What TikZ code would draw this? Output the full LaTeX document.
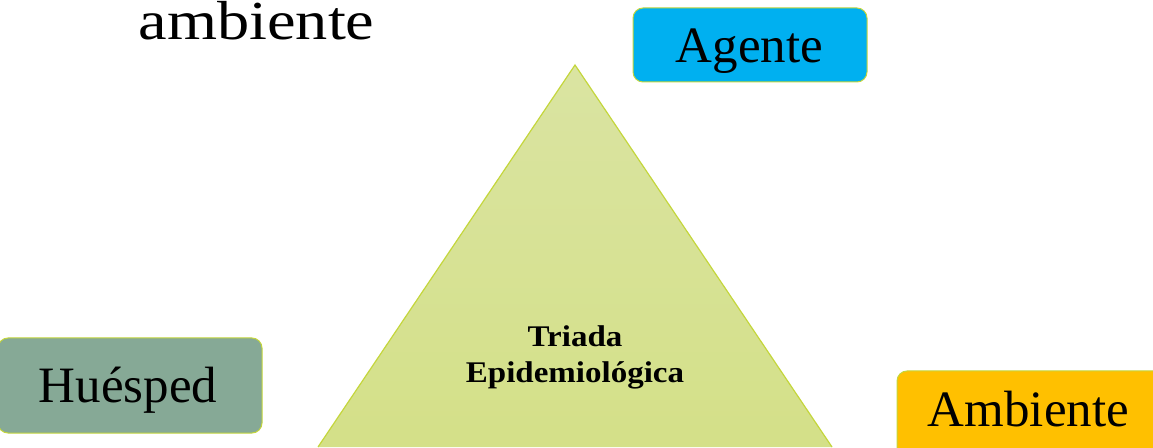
\documentclass[tikz,border=0pt]{standalone}
\usepackage{fontspec}
\setmainfont{Liberation Serif}
\definecolor{agentefill}{RGB}{0,176,240}
\definecolor{huespedfill}{RGB}{134,169,150}
\definecolor{ambientefill}{RGB}{255,192,0}
\definecolor{edgegreen}{RGB}{196,214,60}
\definecolor{tritop}{RGB}{218,228,162}
\definecolor{tribot}{RGB}{212,224,136}
\tikzset{
  box/.style={draw=edgegreen, line width=1pt, rounded corners=10pt, inner sep=0pt},
  bigtxt/.style={anchor=base, inner sep=0pt, font=\fontsize{51}{60}\selectfont},
  tritxt/.style={anchor=base, inner sep=0pt, font=\fontsize{30}{36}\selectfont\bfseries},
}
\begin{document}
\begin{tikzpicture}[x=1pt,y=1pt]
\useasboundingbox (0,0) rectangle (1153,447);
% title fragment
\node[anchor=base, inner sep=0pt, font=\fontsize{55}{62}\selectfont] (title) at (256.5,407) {\scalebox{1.17}[1]{ambiente}};
% triangle
\coordinate (apex) at (575,382);
\coordinate (bl) at (318,0);
\coordinate (br) at (832,0);
\shade[top color=tritop, bottom color=tribot] (apex) -- (br) -- (bl) -- cycle;
\draw[edgegreen, line width=1.2pt, line join=miter] (bl) -- (apex) -- (br);
\node[tritxt] (t1) at (575,100) {\scalebox{1.1}[1]{Triada}};
\node[tritxt] (t2) at (575,64) {\scalebox{1.1}[1]{Epidemiológica}};
% boxes
\node[box, fill=agentefill, minimum width=234pt, minimum height=74pt] (agente) at (750,402) {};
\node[bigtxt] (agentetxt) at (749.5,384) {Agente};
\node[box, fill=huespedfill, minimum width=264pt, minimum height=95pt] (huesped) at (130,61.5) {};
\node[bigtxt] (huespedtxt) at (128,45) {Huésped};
\node[box, fill=ambientefill, minimum width=280pt, minimum height=110pt] (ambiente) at (1037,21) {};
\node[bigtxt] (ambientetxt) at (1028.5,21) {Ambiente};
\end{tikzpicture}
\end{document}
